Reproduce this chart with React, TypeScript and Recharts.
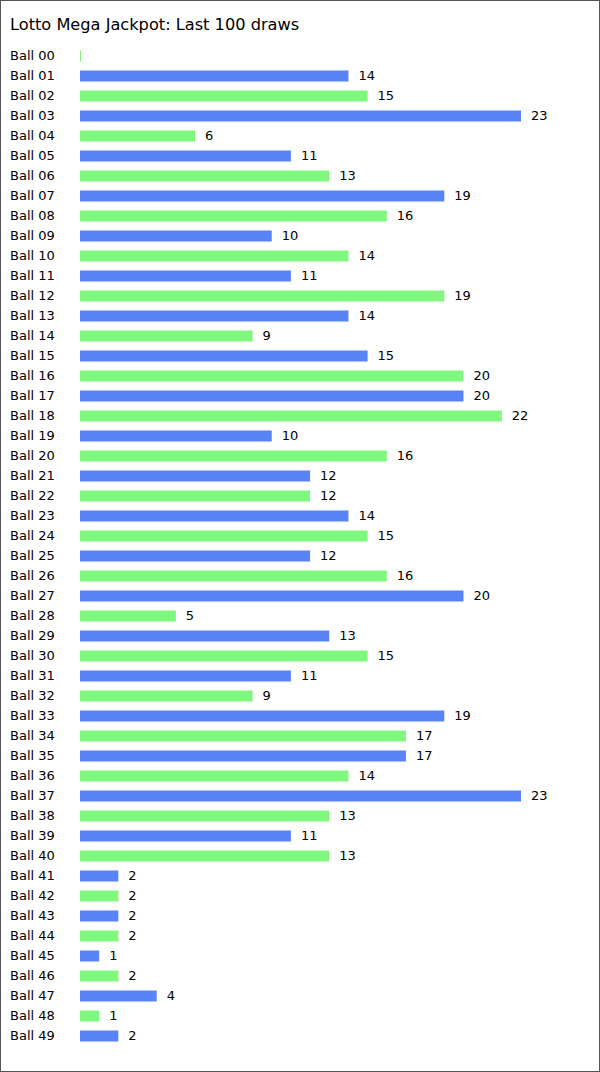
import { Bar, BarChart, Cell, LabelList, XAxis, YAxis } from 'recharts';

const BALLS: string[] = Array.from({ length: 50 }, (_, i) => `Ball ${String(i).padStart(2, '0')}`);

const COUNTS: number[] = [
  0, 14, 15, 23, 6, 11, 13, 19, 16, 10,
  14, 11, 19, 14, 9, 15, 20, 20, 22, 10,
  16, 12, 12, 14, 15, 12, 16, 20, 5, 13,
  15, 11, 9, 19, 17, 17, 14, 23, 13, 11,
  13, 2, 2, 2, 2, 1, 2, 4, 1, 2,
];

const GREEN = '#80F880';
const BLUE = '#5884F8';
const FONT = '"DejaVu Sans", Verdana, sans-serif';

const data = BALLS.map((ball, i) => ({ ball, count: COUNTS[i] }));

const BallTick = (props: any) => {
  const { y, payload } = props;
  return (
    <text x={9} y={y} dy="0.355em" fill="#000" fontSize={13} fontFamily={FONT} textAnchor="start">
      {payload.value}
    </text>
  );
};

const CountLabel = (props: any) => {
  const { x, y, width, height, value } = props;
  if (!value) return null;
  return (
    <text
      x={x + width + 10}
      y={y + height / 2}
      dy="0.33em"
      fill="#000"
      fontSize={13}
      fontFamily={FONT}
      textAnchor="start"
    >
      {value}
    </text>
  );
};

export default function App() {
  return (
    <div
      style={{
        position: 'absolute',
        top: 0,
        left: 0,
        width: 600,
        height: 1072,
        boxSizing: 'border-box',
        border: '1px solid #555',
        background: '#fff',
        fontFamily: FONT,
      }}
    >
      <div
        style={{
          position: 'absolute',
          left: 9,
          top: 14,
          fontSize: 16.2,
          lineHeight: 'normal',
          color: '#000',
          whiteSpace: 'nowrap',
        }}
      >
        Lotto Mega Jackpot: Last 100 draws
      </div>
      <BarChart
        width={598}
        height={1070}
        data={data}
        layout="vertical"
        margin={{ top: 44.5, right: 78, bottom: 25.5, left: 0 }}
      >
        <XAxis type="number" domain={[0, 23]} hide />
        <YAxis
          type="category"
          dataKey="ball"
          width={79}
          axisLine={false}
          tickLine={false}
          interval={0}
          tick={<BallTick />}
        />
        <Bar dataKey="count" barSize={11} minPointSize={1} isAnimationActive={false}>
          {data.map((d, i) => (
            <Cell key={d.ball} fill={i % 2 === 0 ? GREEN : BLUE} />
          ))}
          <LabelList dataKey="count" content={<CountLabel />} />
        </Bar>
      </BarChart>
    </div>
  );
}
